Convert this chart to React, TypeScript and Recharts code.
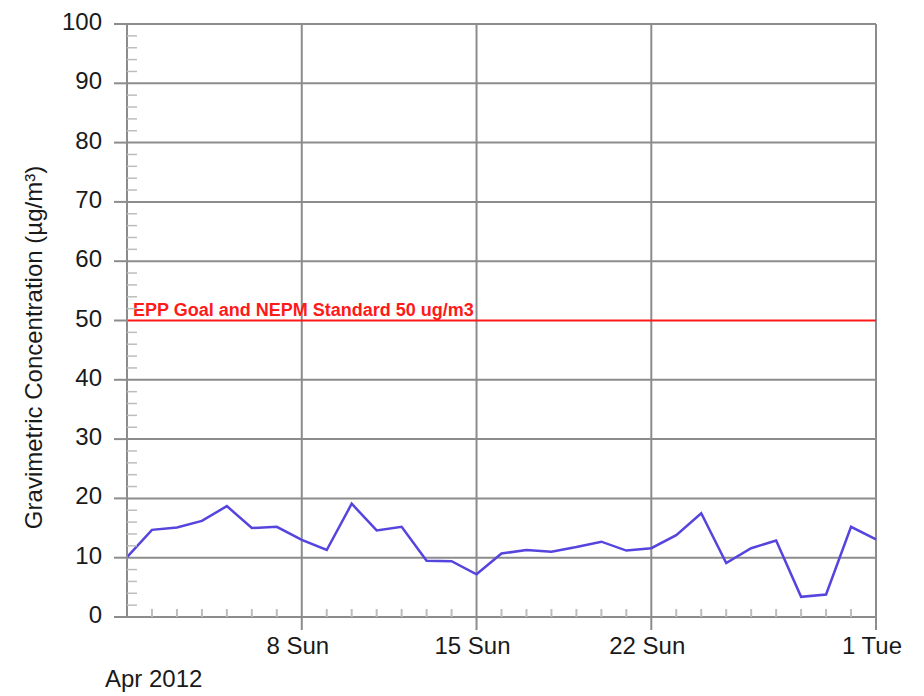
import React from "react";
import { LineChart, Line, XAxis, YAxis, ReferenceLine } from "recharts";

const dayNumbers = [1, 2, 3, 4, 5, 6, 7, 8, 9, 10, 11, 12, 13, 14, 15, 16, 17, 18, 19, 20, 21, 22, 23, 24, 25, 26, 27, 28, 29, 30, 31];
const concentration = [10.1, 14.7, 15.1, 16.2, 18.7, 15.0, 15.2, 13.0, 11.3, 19.1, 14.6, 15.2, 9.5, 9.4, 7.2, 10.7, 11.3, 11.0, 11.8, 12.7, 11.2, 11.6, 13.8, 17.5, 9.1, 11.6, 12.9, 3.4, 3.8, 15.2, 13.1];

const majorDays = [8, 15, 22, 31];
const majorDayLabels = ["8 Sun", "15 Sun", "22 Sun", "1 Tue"];
const monthLabel = "Apr 2012";

const yTicks = [0, 2, 4, 6, 8, 10, 12, 14, 16, 18, 20, 22, 24, 26, 28, 30, 32, 34, 36, 38, 40, 42, 44, 46, 48, 50, 52, 54, 56, 58, 60, 62, 64, 66, 68, 70, 72, 74, 76, 78, 80, 82, 84, 86, 88, 90, 92, 94, 96, 98, 100];
const yMajor = [0, 10, 20, 30, 40, 50, 60, 70, 80, 90, 100];
const yGrid = [10, 20, 30, 40, 60, 70, 80, 90, 100];

const goalValue = 50;
const goalLabel = "EPP Goal and NEPM Standard 50 ug/m3";
const yAxisTitle = "Gravimetric Concentration (µg/m³)";

const data = dayNumbers.map((d, i) => ({ day: d, value: concentration[i] }));

const GRID = "#8c8c8c";
const MINOR = "#bdbdbd";
const FONT = "'Liberation Sans', Arial, sans-serif";

const XTick = (props: any) => {
  const { x, y, payload } = props;
  const v = payload.value;
  const idx = majorDays.indexOf(v);
  if (idx >= 0) {
    return (
      <g>
        <line x1={x} x2={x} y1={y} y2={y + 13} stroke={GRID} strokeWidth={2} />
        <text x={x - 4} y={y + 37} textAnchor="middle" fontSize={24} fontFamily={FONT} fill="#1a1a1a">
          {majorDayLabels[idx]}
        </text>
      </g>
    );
  }
  if (v === dayNumbers[0]) {
    return (
      <text x={x - 22} y={y + 70} textAnchor="start" fontSize={24} fontFamily={FONT} fill="#1a1a1a">
        {monthLabel}
      </text>
    );
  }
  return <line x1={x} x2={x} y1={y} y2={y - 8} stroke={MINOR} strokeWidth={2} />;
};

const YTick = (props: any) => {
  const { x, y, payload } = props;
  const v = payload.value;
  if (yMajor.indexOf(v) >= 0) {
    return (
      <g>
        <line x1={x - 13} x2={x} y1={y} y2={y} stroke={GRID} strokeWidth={2} />
        <text x={x - 25} y={y + 6} textAnchor="end" fontSize={24} fontFamily={FONT} fill="#1a1a1a">
          {v}
        </text>
      </g>
    );
  }
  return <line x1={x} x2={x + 10} y1={y} y2={y} stroke={MINOR} strokeWidth={1.5} />;
};

const YTitle = (props: any) => {
  const vb = props.viewBox || {};
  const cx = (vb.x || 0) + 25;
  const cy = (vb.y || 0) + (vb.height || 0) / 2 + 27;
  return (
    <text
      x={cx}
      y={cy}
      transform={`rotate(-90 ${cx} ${cy})`}
      textAnchor="middle"
      dominantBaseline="central"
      fontSize={24}
      fontFamily={FONT}
      fill="#1a1a1a"
    >
      {yAxisTitle}
    </text>
  );
};

const GoalLabel = (props: any) => {
  const vb = props.viewBox || {};
  return (
    <text
      x={(vb.x || 0) + 6}
      y={(vb.y || 0) - 5}
      textAnchor="start"
      fontSize={18}
      fontWeight="bold"
      fontFamily={FONT}
      fill="#ff1a1a"
    >
      {goalLabel}
    </text>
  );
};

export default function App() {
  return (
    <div style={{ width: 916, height: 688, background: "#fff" }}>
      <LineChart width={916} height={688} data={data} margin={{ top: 16, right: 48, left: 0, bottom: 0 }}>
        <XAxis
          dataKey="day"
          type="number"
          domain={[1, 31]}
          ticks={dayNumbers}
          interval={0}
          tickLine={false}
          tickSize={0}
          tickMargin={0}
          axisLine={{ stroke: GRID, strokeWidth: 2 }}
          tick={<XTick />}
          height={79}
        />
        <YAxis
          type="number"
          domain={[0, 100]}
          ticks={yTicks}
          interval={0}
          tickLine={false}
          tickSize={0}
          tickMargin={0}
          axisLine={{ stroke: GRID, strokeWidth: 2 }}
          tick={<YTick />}
          width={119}
          label={<YTitle />}
        />
        {yGrid.map((v) => (
          <ReferenceLine key={"h" + v} y={v} stroke={GRID} strokeWidth={2} />
        ))}
        {majorDays.map((d) => (
          <ReferenceLine key={"v" + d} x={d} stroke={GRID} strokeWidth={2} />
        ))}
        <ReferenceLine y={goalValue} stroke="#ff1a1a" strokeWidth={2} label={<GoalLabel />} />
        <Line
          type="linear"
          dataKey="value"
          stroke="#5544dd"
          strokeWidth={2.5}
          dot={false}
          isAnimationActive={false}
        />
      </LineChart>
    </div>
  );
}
